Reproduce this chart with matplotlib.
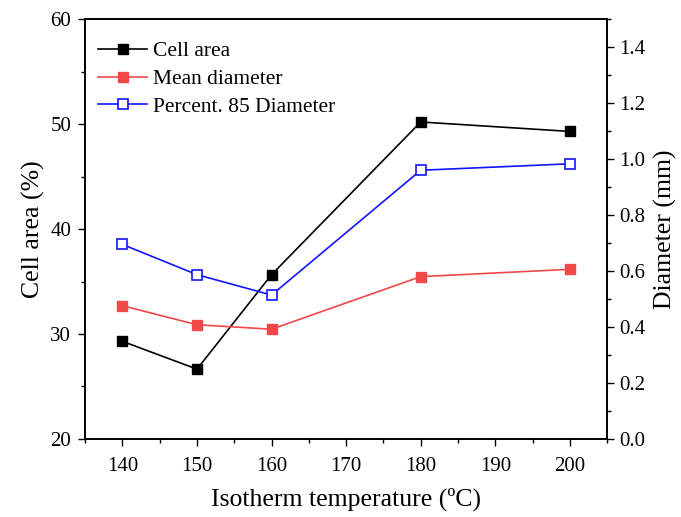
import numpy as np
import matplotlib.pyplot as plt
from matplotlib.ticker import MultipleLocator, FormatStrFormatter

plt.rcParams['font.family'] = ['Liberation Serif', 'DejaVu Serif']

temps = [140, 150, 160, 180, 200]
cellArea = [29.3, 26.65, 35.65, 50.2, 49.3]
meanDiam = [0.476, 0.408, 0.392, 0.580, 0.606]
p85Diam = [0.695, 0.587, 0.514, 0.960, 0.983]

fig = plt.figure(figsize=(6.81, 5.17), dpi=100)
ax = fig.add_axes([0.125, 0.151, 0.7665, 0.812])
ax2 = ax.twinx()

l1, = ax.plot(temps, cellArea, color='black', marker='s', ms=7, lw=1.2, label='Cell area')
l2, = ax2.plot(temps, meanDiam, color='#f04848', marker='s', ms=7, lw=1.2, label='Mean diameter')
l3, = ax2.plot(temps, p85Diam, color='#1414ff', marker='s', ms=7, lw=1.2,
               markerfacecolor='white', markeredgewidth=1.2, label='Percent. 85 Diameter')

ax.set_xlim(135, 205)
ax.set_ylim(20, 60)
ax2.set_ylim(0, 1.5)

ax.xaxis.set_major_locator(MultipleLocator(10))
ax.xaxis.set_minor_locator(MultipleLocator(5))
ax.yaxis.set_major_locator(MultipleLocator(10))
ax.yaxis.set_minor_locator(MultipleLocator(5))
ax2.yaxis.set_major_locator(MultipleLocator(0.2))
ax2.yaxis.set_minor_locator(MultipleLocator(0.1))
ax2.yaxis.set_major_formatter(FormatStrFormatter('%.1f'))

for a in (ax, ax2):
    a.tick_params(which='major', length=5, width=1, labelsize=15, direction='out', pad=4)
    a.tick_params(which='minor', length=3, width=1, direction='out')
    for s in a.spines.values():
        s.set_linewidth(1.2)
ax.tick_params(axis='x', which='major', pad=8)
ax.tick_params(axis='y', which='major', pad=5)

ax.set_xlabel('Isotherm temperature (ºC)', fontsize=18.5, labelpad=8)
ax.set_ylabel('Cell area (%)', fontsize=18.5, labelpad=4)
ax2.set_ylabel('Diameter (mm)', fontsize=18.5, labelpad=6)

ax.legend(handles=[l1, l2, l3], loc='upper left', bbox_to_anchor=(0.008, 0.968),
          frameon=False, fontsize=15.5, handlelength=2.3, borderaxespad=0,
          labelspacing=0.36, handletextpad=0.25)

fig.savefig('out.png', dpi=100)
